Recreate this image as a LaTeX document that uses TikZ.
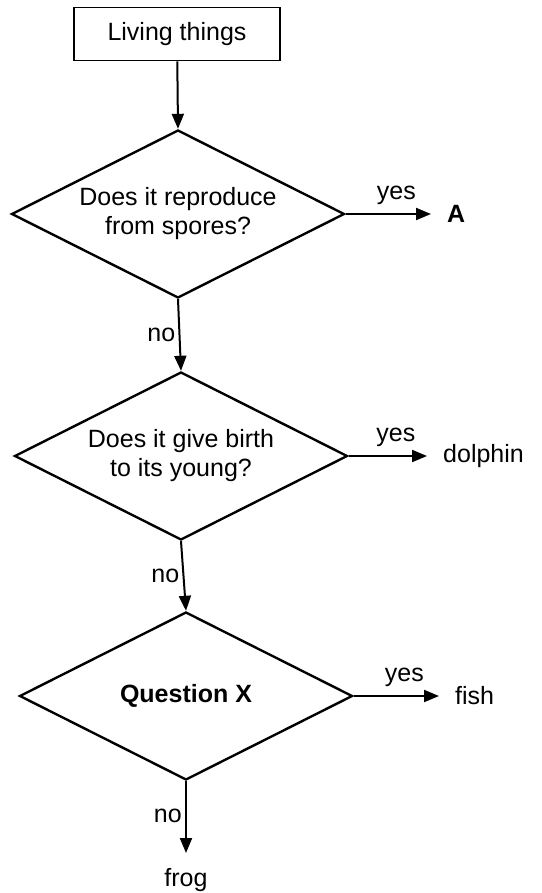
\documentclass[tikz,border=0pt]{standalone}
\usepackage{fontspec}
\setmainfont{Liberation Sans}
\usetikzlibrary{shapes.geometric,arrows.meta}
\begin{document}
\begin{tikzpicture}[x=1pt,y=-1pt,
    every node/.style={font=\fontsize{25}{29}\selectfont},
    question/.style={diamond,draw,line width=2.4pt,aspect=2,
      minimum width=333pt,minimum height=168pt,inner sep=0pt,align=center},
    answer/.style={inner sep=0pt,anchor=west},
    flow/.style={line width=2pt,-{Triangle[length=15pt,width=12pt]}}]
        \useasboundingbox (0,0) rectangle (541,893);
        \def\ax{447} \def\bx{443} \def\cx{455}

        \node[draw,line width=1.8pt,minimum width=206pt,minimum height=53pt] (living) at (177,34) {Living things};
        \node[question] (spores) at (178,214) {Does it reproduce\\from spores?};
        \node[question] (birth) at (181,456) {Does it give birth\\to its young?};
        \node[question] (qx) at (186,696) {\bfseries Question X};

        \node[answer] (resA) at (\ax,214) {\bfseries A};
        \node[answer] (dolphin) at (\bx,456) {dolphin};
        \node[answer] (fish) at (\cx,696) {fish};
        \node[inner sep=0pt,anchor=north] (frog) at (186,868) {frog};

        \draw[flow] (living) -- (spores.north);
        \draw[flow] (spores.south) -- (birth.north) node[midway,left] {no};
        \draw[flow] (birth.south) -- (qx.north) node[midway,left] {no};
        \draw[flow,shorten >=15pt] (qx.south) -- (frog.north) node[pos=0.4,left] {no};
        \draw[flow,shorten >=16pt] (spores.east) -- (resA.west) node[midway,above=5pt] {yes};
        \draw[flow,shorten >=16pt] (birth.east) -- (dolphin.west) node[midway,above=5pt] {yes};
        \draw[flow,shorten >=16pt] (qx.east) -- (fish.west) node[midway,above=5pt] {yes};
      \end{tikzpicture}
\end{document}
